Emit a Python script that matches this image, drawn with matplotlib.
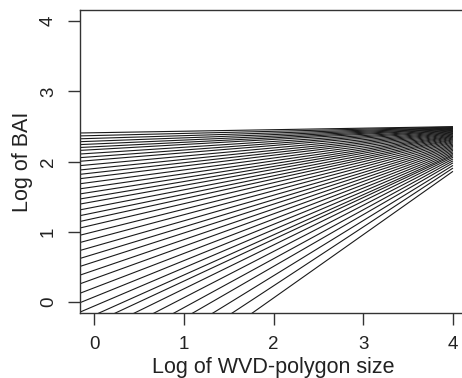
import matplotlib
matplotlib.use("Agg")
import matplotlib.pyplot as plt
import numpy as np

plt.rcParams['font.family'] = ['Liberation Sans', 'DejaVu Sans']

# Fitted lines: log(BAI) at log(WVD-polygon size) = 0 and = 4
intercepts = [2.41, 2.37, 2.33, 2.29, 2.25, 2.21, 2.17, 2.12, 2.07, 2.02,
              1.96, 1.90, 1.84, 1.78, 1.71, 1.64, 1.57, 1.50, 1.43, 1.35,
              1.27, 1.19, 1.10, 1.00, 0.90, 0.79, 0.68, 0.57, 0.45, 0.33,
              0.20, 0.07, -0.06, -0.19, -0.30, -0.44, -0.60, -0.78, -0.97,
              -1.20, -1.45, -1.75]
end_values = [2.497, 2.491, 2.484, 2.478, 2.472, 2.466, 2.460, 2.452, 2.445, 2.437,
              2.428, 2.419, 2.410, 2.400, 2.390, 2.379, 2.368, 2.358, 2.347, 2.335,
              2.322, 2.310, 2.296, 2.281, 2.266, 2.249, 2.232, 2.215, 2.197, 2.178,
              2.159, 2.139, 2.119, 2.099, 2.082, 2.061, 2.036, 2.009, 1.980,
              1.944, 1.906, 1.860]
x_ticks = [0, 1, 2, 3, 4]
y_ticks = [0, 1, 2, 3, 4]

fig = plt.figure(figsize=(4.62, 3.78), dpi=100)
ax = fig.add_axes([80/462, 1-313/378, (467.3-80)/462, 303/378])

x_start, x_end = -0.6, 4.0
for a, v in zip(intercepts, end_values):
    b = (v - a) / 4.0
    ax.plot([x_start, x_end], [a + b*x_start, a + b*x_end], color='#1a1a1a', lw=0.8,
            solid_capstyle='butt')

ax.set_xlim(-0.16, 4.16)
ax.set_ylim(-0.16, 4.16)
ax.set_xticks(x_ticks)
ax.set_yticks(y_ticks)
ax.set_xticklabels([str(t) for t in x_ticks], fontsize=13.5, color='#222222')
ax.set_yticklabels([str(t) for t in y_ticks], fontsize=13.5, color='#222222',
                   rotation=90, va='center')
ax.tick_params(direction='out', length=8.5, width=1, color='#333333', pad=8)
ax.spines['right'].set_visible(False)
for s in ax.spines.values():
    s.set_color('#333333')
    s.set_linewidth(1)
ax.set_xlabel('Log of WVD-polygon size', fontsize=15.5, color='#222222', labelpad=3)
ax.set_ylabel('Log of BAI', fontsize=15.5, color='#222222', labelpad=5)

fig.savefig('out.png', dpi=100)
